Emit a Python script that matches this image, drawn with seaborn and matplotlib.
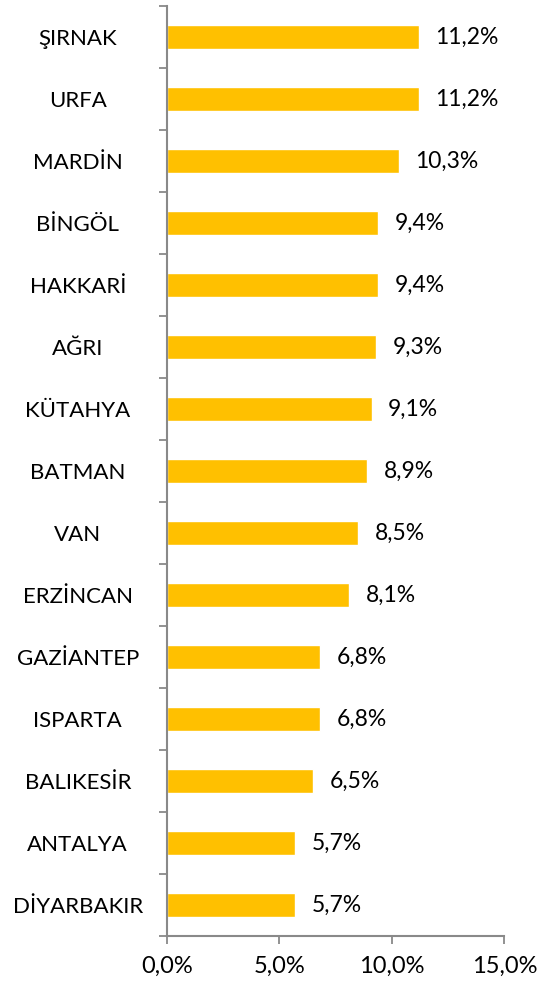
import matplotlib
matplotlib.use("Agg")
import matplotlib.pyplot as plt
import seaborn as sns
import pandas as pd
import numpy as np
from matplotlib.ticker import FixedLocator, FuncFormatter

cities = ["ŞIRNAK", "URFA", "MARDİN", "BİNGÖL", "HAKKARİ", "AĞRI", "KÜTAHYA",
          "BATMAN", "VAN", "ERZİNCAN", "GAZİANTEP", "ISPARTA", "BALIKESİR",
          "ANTALYA", "DİYARBAKIR"]
values = [11.2, 11.2, 10.3, 9.4, 9.4, 9.3, 9.1, 8.9, 8.5, 8.1, 6.8, 6.8, 6.5, 5.7, 5.7]
xticks = [0, 5, 10, 15]

sns.set_theme(style="white")
plt.rcParams["font.family"] = ["Lato", "DejaVu Sans"]

df = pd.DataFrame({"city": cities, "value": values})

W, H = 547, 986
fig = plt.figure(figsize=(W / 100, H / 100), dpi=100)
L, R, T, B = 166.7, 504.3, 6, 936
ax = fig.add_axes([L / W, 1 - B / H, (R - L) / W, (B - T) / H])

sns.barplot(data=df, x="value", y="city", orient="h", color="#FFC000",
            width=0.39, saturation=1, ax=ax)

ax.set_xlim(0, 15)
ax.set_ylim(len(cities) - 0.5, -0.5)
ax.set_xlabel("")
ax.set_ylabel("")

for i, v in enumerate(values):
    ax.annotate(f"{v:.1f}%".replace(".", ","), xy=(v, i), xytext=(12, 0),
                textcoords="offset points", va="center", ha="left",
                fontsize=16.5, color="black")

# x axis
ax.xaxis.set_major_locator(FixedLocator(xticks))
ax.xaxis.set_major_formatter(FuncFormatter(lambda x, p: f"{x:.1f}%".replace(".", ",")))
ax.tick_params(axis="x", which="major", direction="out", length=5.5, width=1.3,
               color="#898989", labelsize=17, labelcolor="black", pad=9, bottom=True)

# y axis: boundary ticks as major, labels on minor
ax.yaxis.set_major_locator(FixedLocator(np.arange(-0.5, len(cities), 1.0)))
ax.yaxis.set_major_formatter(FuncFormatter(lambda x, p: ""))
ax.yaxis.set_minor_locator(FixedLocator(np.arange(len(cities))))
ax.yaxis.set_minor_formatter(FuncFormatter(lambda x, p: cities[int(round(x))]))
ax.tick_params(axis="y", which="major", direction="out", length=5.5, width=1.3,
               color="#898989", left=True)
ax.tick_params(axis="y", which="minor", length=0, labelsize=16,
               labelcolor="black", pad=64, left=True)
for lbl in ax.get_yticklabels(minor=True):
    lbl.set_ha("center")

for s in ["top", "right"]:
    ax.spines[s].set_visible(False)
for s in ["left", "bottom"]:
    ax.spines[s].set_color("#898989")
    ax.spines[s].set_linewidth(1.5)

ax.grid(False)
fig.savefig("out.png", dpi=100)
